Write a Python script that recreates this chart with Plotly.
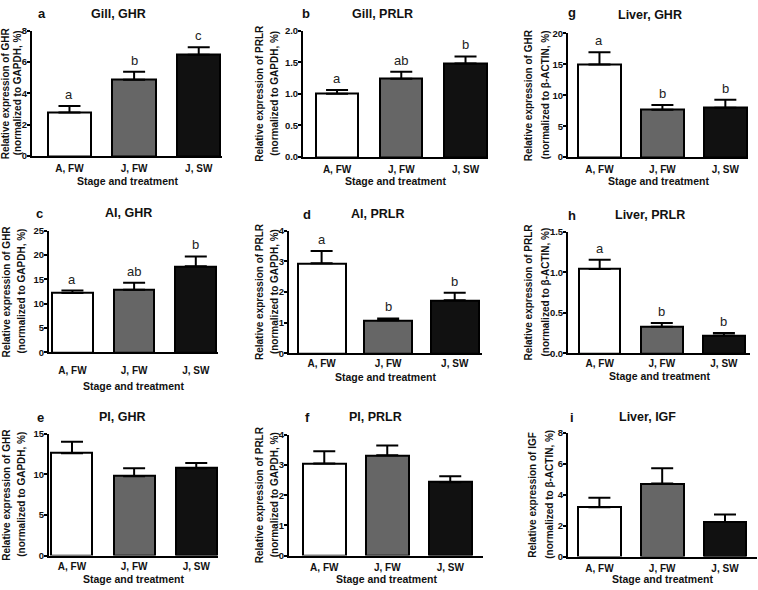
import plotly.graph_objects as go

W, H = 758, 590
FONT = "Liberation Sans"

categories = ["A, FW", "J, FW", "J, SW"]

# means and upper error (SEM)
gill_ghr_mean = [2.78, 4.87, 6.45]
gill_ghr_err = [0.41, 0.50, 0.49]
gill_prlr_mean = [1.00, 1.24, 1.48]
gill_prlr_err = [0.06, 0.11, 0.11]
liver_ghr_mean = [14.97, 7.65, 7.97]
liver_ghr_err = [2.00, 0.78, 1.32]
ai_ghr_mean = [12.23, 12.85, 17.68]
ai_ghr_err = [0.47, 1.47, 2.04]
ai_prlr_mean = [2.94, 1.08, 1.73]
ai_prlr_err = [0.40, 0.06, 0.25]
liver_prlr_mean = [1.04, 0.33, 0.22]
liver_prlr_err = [0.115, 0.045, 0.032]
pi_ghr_mean = [12.60, 9.77, 10.77]
pi_ghr_err = [1.43, 1.00, 0.65]
pi_prlr_mean = [3.05, 3.32, 2.43]
pi_prlr_err = [0.41, 0.33, 0.20]
liver_igf_mean = [3.19, 4.72, 2.23]
liver_igf_err = [0.61, 1.00, 0.49]

gill_ghr_sig = ["a", "b", "c"]
gill_prlr_sig = ["a", "ab", "b"]
liver_ghr_sig = ["a", "b", "b"]
ai_ghr_sig = ["a", "ab", "b"]
ai_prlr_sig = ["a", "b", "b"]
liver_prlr_sig = ["a", "b", "b"]
no_sig = ["", "", ""]

bar_colors = ["#ffffff", "#666666", "#111111"]

panels = [
    dict(letter="a", title="Gill, GHR", gene="GHR", ref="GAPDH", mean=gill_ghr_mean, err=gill_ghr_err, sig=gill_ghr_sig,
         ticks=[0, 2, 4, 6, 8], ticktext=["0", "2", "4", "6", "8"]),
    dict(letter="b", title="Gill, PRLR", gene="PRLR", ref="GAPDH", mean=gill_prlr_mean, err=gill_prlr_err, sig=gill_prlr_sig,
         ticks=[0, 0.5, 1.0, 1.5, 2.0], ticktext=["0.0", "0.5", "1.0", "1.5", "2.0"]),
    dict(letter="g", title="Liver, GHR", gene="GHR", ref="β-ACTIN", mean=liver_ghr_mean, err=liver_ghr_err, sig=liver_ghr_sig,
         ticks=[0, 5, 10, 15, 20], ticktext=["0", "5", "10", "15", "20"]),
    dict(letter="c", title="AI, GHR", gene="GHR", ref="GAPDH", mean=ai_ghr_mean, err=ai_ghr_err, sig=ai_ghr_sig,
         ticks=[0, 5, 10, 15, 20, 25], ticktext=["0", "5", "10", "15", "20", "25"]),
    dict(letter="d", title="AI, PRLR", gene="PRLR", ref="GAPDH", mean=ai_prlr_mean, err=ai_prlr_err, sig=ai_prlr_sig,
         ticks=[0, 1, 2, 3, 4], ticktext=["0", "1", "2", "3", "4"]),
    dict(letter="h", title="Liver, PRLR", gene="PRLR", ref="β-ACTIN", mean=liver_prlr_mean, err=liver_prlr_err, sig=liver_prlr_sig,
         ticks=[0, 0.5, 1.0, 1.5], ticktext=["0.0", "0.5", "1.0", "1.5"]),
    dict(letter="e", title="PI, GHR", gene="GHR", ref="GAPDH", mean=pi_ghr_mean, err=pi_ghr_err, sig=no_sig,
         ticks=[0, 5, 10, 15], ticktext=["0", "5", "10", "15"]),
    dict(letter="f", title="PI, PRLR", gene="PRLR", ref="GAPDH", mean=pi_prlr_mean, err=pi_prlr_err, sig=no_sig,
         ticks=[0, 1, 2, 3, 4], ticktext=["0", "1", "2", "3", "4"]),
    dict(letter="i", title="Liver, IGF", gene="IGF", ref="β-ACTIN", mean=liver_igf_mean, err=liver_igf_err, sig=no_sig,
         ticks=[0, 2, 4, 6, 8], ticktext=["0", "2", "4", "6", "8"]),
]

# layout geometry in pixels
geom = [
    dict(x0=32, x1=222, yt=25, yb=153, xr=[-0.58, 2.36], bw=0.67, lp=(42, 8), tp=(118, 8), ytx=(5, 17), so=2, xty=178),
    dict(x0=303, x1=488, yt=25, yb=154, xr=[-0.53, 2.35], bw=0.66, lp=(306, 8), tp=(382, 8), ytx=(260, 275), so=2, xty=178),
    dict(x0=568, x1=748, yt=28, yb=154, xr=[-0.50, 2.36], bw=0.69, lp=(572, 7), tp=(650, 9), ytx=(528, 545), so=2, xty=178),
    dict(x0=49, x1=218, yt=229, yb=353, xr=[-0.38, 2.36], bw=0.66, lp=(39, 211), tp=(128, 211), ytx=(7, 22), so=8, xty=387),
    dict(x0=289, x1=482, yt=229, yb=354, xr=[-0.49, 2.41], bw=0.72, lp=(307, 212), tp=(377, 212), ytx=(259, 274), so=0, xty=378),
    dict(x0=568, x1=750, yt=230, yb=354, xr=[-0.51, 2.42], bw=0.67, lp=(572, 213), tp=(650, 213), ytx=(529, 546), so=0, xty=377),
    dict(x0=49, x1=218, yt=436, yb=560, xr=[-0.37, 2.35], bw=0.66, lp=(40, 419), tp=(122, 419), ytx=(7, 22), so=0, xty=584),
    dict(x0=289, x1=483, yt=437, yb=560, xr=[-0.56, 2.52], bw=0.68, lp=(307, 419), tp=(375, 419), ytx=(259, 274), so=1, xty=584),
    dict(x0=568, x1=757, yt=435, yb=561, xr=[-0.50, 2.51], bw=0.68, lp=(572, 419), tp=(647, 419), ytx=(533, 550), so=1, xty=584),
]


def px(x):
    return x / W


def py(y):
    return 1 - y / H


fig = go.Figure()
annotations = []
layout_axes = {}
TXT = "#111111"

for i, (p, g) in enumerate(zip(panels, geom)):
    n = i + 1
    xa = "x" if n == 1 else f"x{n}"
    ya = "y" if n == 1 else f"y{n}"
    fig.add_trace(go.Bar(
        x=[0, 1, 2], y=p["mean"], xaxis=xa, yaxis=ya, width=g["bw"],
        marker=dict(color=bar_colors, line=dict(color="#000000", width=2)),
        error_y=dict(type="data", symmetric=False, array=p["err"], arrayminus=[0, 0, 0],
                     color="#000000", thickness=2, width=11),
        showlegend=False, hoverinfo="skip",
    ))
    ymax = p["ticks"][-1]
    layout_axes[f"xaxis{'' if n == 1 else n}"] = dict(
        domain=[px(g["x0"]), px(g["x1"])], anchor=ya, range=g["xr"],
        tickvals=[0, 1, 2], ticktext=categories, ticks="", showgrid=False, zeroline=False,
        showline=True, linecolor="#000000", linewidth=2, ticklabelstandoff=g["so"],
        tickfont=dict(family=FONT, size=10, color=TXT, weight="bold"), fixedrange=True,
    )
    layout_axes[f"yaxis{'' if n == 1 else n}"] = dict(
        domain=[py(g["yb"]), py(g["yt"])], anchor=xa, range=[0, ymax],
        tickvals=p["ticks"], ticktext=p["ticktext"], ticks="outside", ticklen=3, tickwidth=1.5,
        tickcolor="#000000", showgrid=False, zeroline=False, showline=True, linecolor="#000000",
        linewidth=2, ticklabelstandoff=-2,
        tickfont=dict(family=FONT, size=9.5, color=TXT, weight="bold"), fixedrange=True,
    )
    annotations.append(dict(text=p["letter"], x=px(g["lp"][0]), y=py(g["lp"][1]), xref="paper", yref="paper",
                            showarrow=False, xanchor="center", yanchor="middle",
                            font=dict(family=FONT, size=13, color=TXT, weight="bold")))
    annotations.append(dict(text=p["title"], x=px(g["tp"][0]), y=py(g["tp"][1]), xref="paper", yref="paper",
                            showarrow=False, xanchor="center", yanchor="middle",
                            font=dict(family=FONT, size=12.5, color=TXT, weight="bold")))
    ymid = py((g["yt"] + g["yb"]) / 2)
    annotations.append(dict(text=f"Relative expression of {p['gene']}",
                            x=px(g["ytx"][0]), y=ymid, xref="paper", yref="paper",
                            showarrow=False, textangle=-90, xanchor="center", yanchor="middle",
                            font=dict(family=FONT, size=10, color=TXT, weight="bold")))
    annotations.append(dict(text=f"(normalized to {p['ref']}, %)",
                            x=px(g["ytx"][1]), y=ymid, xref="paper", yref="paper",
                            showarrow=False, textangle=-90, xanchor="center", yanchor="middle",
                            font=dict(family=FONT, size=10, color=TXT, weight="bold")))
    annotations.append(dict(text="Stage and treatment", x=px((g["x0"] + g["x1"]) / 2), y=py(g["xty"]),
                            xref="paper", yref="paper", showarrow=False, xanchor="center", yanchor="middle",
                            font=dict(family=FONT, size=10.5, color=TXT, weight="bold")))
    for k in range(3):
        if p["sig"][k]:
            annotations.append(dict(text=p["sig"][k], x=k, y=p["mean"][k] + p["err"][k], xref=xa, yref=ya,
                                    showarrow=False, xanchor="center", yanchor="bottom", yshift=2,
                                    font=dict(family=FONT, size=13, color="#222222")))

fig.update_layout(
    width=W, height=H, margin=dict(l=0, r=0, t=0, b=0),
    paper_bgcolor="#ffffff", plot_bgcolor="rgba(0,0,0,0)",
    annotations=annotations, bargap=0, **layout_axes,
)

fig.write_html("out.html", config={"displayModeBar": False},
               post_script="document.body.style.margin='0';document.body.style.overflow='hidden';")
